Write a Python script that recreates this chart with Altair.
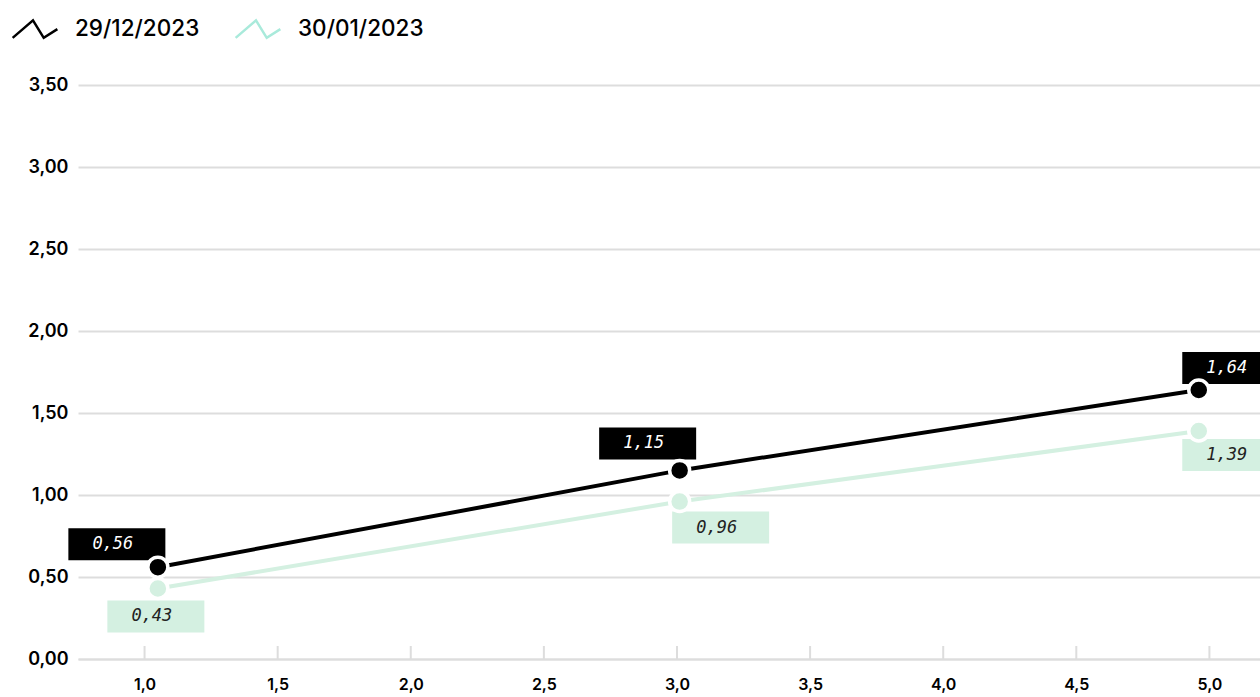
import altair as alt
import pandas as pd

# ---- data ----
DATES = ["29/12/2023", "30/01/2023"]
X_VALUES = [1.05, 3.01, 4.96]
SERIES_BLACK = [0.56, 1.15, 1.64]
SERIES_GREEN = [0.43, 0.96, 1.39]
X_TICKS = [1.0, 1.5, 2.0, 2.5, 3.0, 3.5, 4.0, 4.5, 5.0]
Y_TICKS = [0.0, 0.5, 1.0, 1.5, 2.0, 2.5, 3.0, 3.5]

# ---- styles ----
BLACK = "#000000"
MINT_LINE = "#d4f0e1"
MINT_LEGEND = "#a9eadb"
GRID = "#dddddd"
FONT = "Inter"
LABEL_FONT = "DejaVu Sans Mono"
W, H = 1182, 574
# label box offsets (pixels relative to point) per series
OFFS = {
    DATES[0]: [(-41, -23), (-32, -27), (32, -22)],
    DATES[1]: [(-2, 28), (41, 26), (32, 24)],
}

rows = []
for i, (x, b, g) in enumerate(zip(X_VALUES, SERIES_BLACK, SERIES_GREEN)):
    rows.append({"series": DATES[0], "x": x, "y": b, "idx": i})
    rows.append({"series": DATES[1], "x": x, "y": g, "idx": i})
df = pd.DataFrame(rows)
df["label"] = df["y"].map(lambda v: f"{v:.2f}".replace(".", ","))

xs = alt.Scale(domain=[0.75, 5.19], nice=False, zero=False)
ys = alt.Scale(domain=[0, 3.5], nice=False)

base = alt.Chart(df)

X_AXIS = alt.Axis(values=X_TICKS, labelExpr="replace(format(datum.value,'.1f'),'.',',')",
                  grid=False, ticks=False, domain=True, domainColor=GRID, domainWidth=2,
                  labelPadding=17, labelFontSize=16, labelFont=FONT, labelFontWeight=600,
                  labelColor="#000")
Y_AXIS = alt.Axis(values=Y_TICKS, labelExpr="replace(format(datum.value,'.2f'),'.',',')",
                  grid=True, gridColor=GRID, gridWidth=2, ticks=False, domain=False,
                  labelPadding=10, labelFontSize=18, labelFont=FONT, labelFontWeight=600,
                  labelColor="#000")


def xq(f="x:Q"):
    return alt.X(f, scale=xs, axis=X_AXIS, title=None)


def yq(f="y:Q"):
    return alt.Y(f, scale=ys, axis=Y_AXIS, title=None)


ticks = alt.Chart(pd.DataFrame({"t": X_TICKS})).mark_rule(color=GRID, strokeWidth=2).encode(
    x=xq("t:Q"), y=alt.value(H - 13), y2=alt.value(H)
)

line_color = alt.Color("series:N", scale=alt.Scale(domain=DATES, range=[BLACK, MINT_LINE]), legend=None)

lines = base.mark_line(strokeWidth=4).encode(x=xq(), y=yq(), color=line_color, order="x:Q")

legend_layer = base.mark_line(strokeWidth=2.5, opacity=0).encode(
    x=xq(), y=yq(),
    stroke=alt.Stroke("series:N", scale=alt.Scale(domain=DATES, range=[BLACK, MINT_LEGEND]),
                      legend=alt.Legend(
                          title=None, orient="none", direction="horizontal",
                          legendX=-67, legendY=-80,
                          symbolType="M-1,0.39L-0.09,-0.39L0.39,0.39L1,0",
                          symbolSize=2000, symbolStrokeWidth=2.5, symbolOpacity=1,
                          symbolFillColor="transparent",
                          labelFontSize=22.5, labelFont=FONT, labelFontWeight=500,
                          labelColor="#000", labelOffset=16, columnPadding=30)),
)

layers = [ticks, lines, legend_layer]

for s, fill, tcol in [(DATES[0], BLACK, "#ffffff"), (DATES[1], MINT_LINE, "#222222")]:
    for i, (dx, dy) in enumerate(OFFS[s]):
        sub = base.transform_filter(
            (alt.datum.series == s) & (alt.datum.idx == i)
        )
        layers.append(sub.mark_rect(width=97, height=32, xOffset=dx, yOffset=dy, color=fill).encode(
            x=xq(), y=yq()))
        layers.append(sub.mark_text(dx=dx - 4, dy=dy, font=LABEL_FONT, fontStyle="italic",
                                    fontSize=17, color=tcol).encode(
            x=xq(), y=yq(), text="label:N"))

points = base.mark_point(filled=True, size=400, stroke="#ffffff", strokeWidth=3.5, opacity=1).encode(
    x=xq(), y=yq(),
    fill=alt.Fill("series:N", scale=alt.Scale(domain=DATES, range=[BLACK, MINT_LINE]), legend=None),
)
layers.append(points)

chart = alt.layer(*layers).resolve_legend(
    color="independent", stroke="independent", fill="independent"
).properties(
    width=W, height=H,
    background="#ffffff",
    autosize=alt.AutoSizeParams(type="none"),
    padding={"left": 78, "top": 85, "right": 0, "bottom": 38},
).configure_view(strokeWidth=0, stroke="transparent")

chart.save("out.html", embed_options={"renderer": "svg", "actions": False})
